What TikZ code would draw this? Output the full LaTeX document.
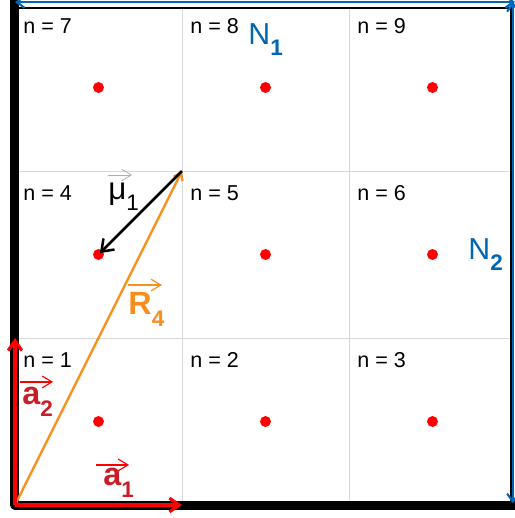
\documentclass[tikz,border=0pt]{standalone}
\usepackage{fontspec}
\setmainfont{Liberation Sans}
\usetikzlibrary{arrows.meta}

\definecolor{cellgray}{RGB}{217,217,217}
\definecolor{labelred}{RGB}{200,30,40}
\definecolor{rorange}{RGB}{247,143,30}
\definecolor{nblue}{RGB}{0,102,179}
\definecolor{tipgray}{RGB}{175,175,175}

% main symbol with a lowered index
\newcommand{\withsub}[2]{#1\raisebox{-6pt}{\fontsize{11.5}{12}\selectfont #2}}

\begin{document}
\begin{tikzpicture}[x=3cm, y=3cm,
    gridline/.style={cellgray, line width=0.5pt},
    site/.style={circle, fill=red, inner sep=0pt, minimum size=5.6pt},
    cellnum/.style={anchor=base west, inner sep=0pt, font=\fontsize{11}{12}\selectfont},
    basisvec/.style={red, line width=1.6pt, -{Straight Barb[length=5pt,width=7pt]}},
    sidearrow/.style={nblue, line width=1.1pt, {Straight Barb[length=4pt,width=6pt]}-{Straight Barb[length=4pt,width=6pt]}},
    overarrow/.style={line width=0.6pt, -{Straight Barb[length=5pt,width=6pt]}},
    veclabel/.style={anchor=base west, inner sep=0pt, font=\fontsize{16.5}{18}\selectfont\bfseries}]
    \useasboundingbox (-0.0898,-0.0778) rectangle (2.994,3.024);

    % Define the corners of the cell grid
    \coordinate (O) at (0,0);
    \coordinate (A1) at (1,0);
    \coordinate (A2) at (0,1);
    \coordinate (P) at (1,2);

    % Draw the cell lines and the frame
    \draw[gridline] (1,0) -- (1,2.976);
    \draw[gridline] (2,0) -- (2,2.976);
    \draw[gridline] (0,1) -- (2.97,1);
    \draw[gridline] (0,2) -- (2.97,2);
    \draw[line width=0.9pt] (O) rectangle (2.97,2.976);
    \draw[line width=4.6pt, line join=round] (0,3.03) -- (O) -- (3.0,0); % thick edges

    % Period arrows along top and right
    \draw[sidearrow] (0,3.012) -- (2.994,3.012);
    \draw[sidearrow] (2.982,3.012) -- (2.982,0.01);

    % Sites at the cell centres
    \node[site] (s1) at (0.5,0.5) {};
    \node[site] (s2) at (1.5,0.5) {};
    \node[site] (s3) at (2.5,0.5) {};
    \node[site] (s4) at (0.5,1.5) {};
    \node[site] (s5) at (1.5,1.5) {};
    \node[site] (s6) at (2.5,1.5) {};
    \node[site] (s7) at (0.5,2.5) {};
    \node[site] (s8) at (1.5,2.5) {};
    \node[site] (s9) at (2.5,2.5) {};

    % Cell numbers
    \node[cellnum] (n1) at (0.048,0.826) {n = 1};
    \node[cellnum] (n2) at (1.048,0.826) {n = 2};
    \node[cellnum] (n3) at (2.048,0.826) {n = 3};
    \node[cellnum] (n4) at (0.048,1.826) {n = 4};
    \node[cellnum] (n5) at (1.048,1.826) {n = 5};
    \node[cellnum] (n6) at (2.048,1.826) {n = 6};
    \node[cellnum] (n7) at (0.048,2.826) {n = 7};
    \node[cellnum] (n8) at (1.048,2.826) {n = 8};
    \node[cellnum] (n9) at (2.048,2.826) {n = 9};

    % Vectors
    \draw[rorange, line width=1.2pt, -{Straight Barb[length=3.5pt,width=5pt]}] (O) -- (P);
    \draw[line width=1.3pt, -{Straight Barb[length=5.5pt,width=8pt]}, shorten >=1pt] (P) -- (s4.center);
    \draw[basisvec] (O) -- (A1);
    \draw[basisvec] (O) -- (A2);

    % Vector labels
    \node[veclabel, labelred] (a1lbl) at (0.527,0.114) {\withsub{a}{1}};
    \draw[overarrow, red] (0.485,0.240) -- (0.683,0.240);
    \node[veclabel, labelred] (a2lbl) at (0.042,0.599) {\withsub{a}{2}};
    \draw[overarrow, red] (0.030,0.737) -- (0.228,0.737);
    \node[veclabel, rorange] (R4lbl) at (0.677,1.138) {\withsub{R}{4}};
    \draw[overarrow, rorange] (0.677,1.317) -- (0.880,1.317);
    \node[anchor=base west, inner sep=0pt, font=\fontsize{16}{18}\selectfont] (mulbl) at (0.557,1.832) {\withsub{μ}{1}};
    \draw[overarrow, tipgray, line width=0.4pt] (0.557,1.976) -- (0.701,1.976);

    % Period counts
    \node[anchor=base west, inner sep=0pt, nblue, font=\fontsize{15.5}{18}\selectfont] (N1lbl) at (1.395,2.760) {\withsub{N}{\bfseries 1}};
    \node[anchor=base west, inner sep=0pt, nblue, font=\fontsize{15.5}{18}\selectfont] (N2lbl) at (2.713,1.473) {\withsub{N}{\bfseries 2}};
\end{tikzpicture}
\end{document}
